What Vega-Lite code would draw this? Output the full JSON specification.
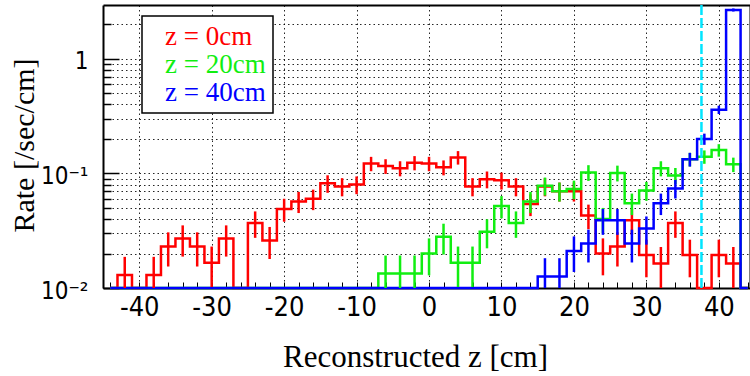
{
  "$schema": "https://vega.github.io/schema/vega-lite/v6.json",
  "width": 647,
  "height": 283,
  "autosize": {"type": "none"},
  "padding": {"left": 103, "top": 5, "right": 0, "bottom": 88},
  "background": "white",
  "config": {"view": {"stroke": null}},
  "datasets": {
    "hist": [
      {"z": -44, "rate": 0, "series": "z = 0cm"},
      {"z": -42, "rate": 0.013, "lo": 0.0073, "hi": 0.0187, "series": "z = 0cm"},
      {"z": -40, "rate": 0, "series": "z = 0cm"},
      {"z": -38, "rate": 0.013, "lo": 0.0073, "hi": 0.0187, "series": "z = 0cm"},
      {"z": -36, "rate": 0.023, "lo": 0.0154, "hi": 0.0306, "series": "z = 0cm"},
      {"z": -34, "rate": 0.027, "lo": 0.0188, "hi": 0.0352, "series": "z = 0cm"},
      {"z": -32, "rate": 0.023, "lo": 0.0154, "hi": 0.0306, "series": "z = 0cm"},
      {"z": -30, "rate": 0.0166, "lo": 0.0102, "hi": 0.023, "series": "z = 0cm"},
      {"z": -28, "rate": 0.027, "lo": 0.0188, "hi": 0.0352, "series": "z = 0cm"},
      {"z": -26, "rate": 0, "series": "z = 0cm"},
      {"z": -24, "rate": 0.037, "lo": 0.0274, "hi": 0.0466, "series": "z = 0cm"},
      {"z": -22, "rate": 0.026, "lo": 0.0179, "hi": 0.0341, "series": "z = 0cm"},
      {"z": -20, "rate": 0.049, "lo": 0.0379, "hi": 0.0601, "series": "z = 0cm"},
      {"z": -18, "rate": 0.057, "lo": 0.0451, "hi": 0.0689, "series": "z = 0cm"},
      {"z": -16, "rate": 0.06, "lo": 0.0478, "hi": 0.0722, "series": "z = 0cm"},
      {"z": -14, "rate": 0.082, "lo": 0.0677, "hi": 0.0963, "series": "z = 0cm"},
      {"z": -12, "rate": 0.077, "lo": 0.0631, "hi": 0.0909, "series": "z = 0cm"},
      {"z": -10, "rate": 0.08, "lo": 0.0659, "hi": 0.0941, "series": "z = 0cm"},
      {"z": -8, "rate": 0.122, "lo": 0.1045, "hi": 0.1395, "series": "z = 0cm"},
      {"z": -6, "rate": 0.116, "lo": 0.099, "hi": 0.133, "series": "z = 0cm"},
      {"z": -4, "rate": 0.111, "lo": 0.0943, "hi": 0.1277, "series": "z = 0cm"},
      {"z": -2, "rate": 0.124, "lo": 0.1064, "hi": 0.1416, "series": "z = 0cm"},
      {"z": 0, "rate": 0.122, "lo": 0.1045, "hi": 0.1395, "series": "z = 0cm"},
      {"z": 2, "rate": 0.113, "lo": 0.0962, "hi": 0.1298, "series": "z = 0cm"},
      {"z": 4, "rate": 0.138, "lo": 0.1194, "hi": 0.1566, "series": "z = 0cm"},
      {"z": 6, "rate": 0.077, "lo": 0.0631, "hi": 0.0909, "series": "z = 0cm"},
      {"z": 8, "rate": 0.089, "lo": 0.0741, "hi": 0.1039, "series": "z = 0cm"},
      {"z": 10, "rate": 0.087, "lo": 0.0723, "hi": 0.1017, "series": "z = 0cm"},
      {"z": 12, "rate": 0.077, "lo": 0.0631, "hi": 0.0909, "series": "z = 0cm"},
      {"z": 14, "rate": 0.054, "lo": 0.0424, "hi": 0.0656, "series": "z = 0cm"},
      {"z": 16, "rate": 0.077, "lo": 0.0631, "hi": 0.0909, "series": "z = 0cm"},
      {"z": 18, "rate": 0.07, "lo": 0.0568, "hi": 0.0832, "series": "z = 0cm"},
      {"z": 20, "rate": 0.07, "lo": 0.0568, "hi": 0.0832, "series": "z = 0cm"},
      {"z": 22, "rate": 0.043, "lo": 0.0326, "hi": 0.0534, "series": "z = 0cm"},
      {"z": 24, "rate": 0.02, "lo": 0.0129, "hi": 0.0271, "series": "z = 0cm"},
      {"z": 26, "rate": 0.023, "lo": 0.0154, "hi": 0.0306, "series": "z = 0cm"},
      {"z": 28, "rate": 0.039, "lo": 0.0291, "hi": 0.0489, "series": "z = 0cm"},
      {"z": 30, "rate": 0.0194, "lo": 0.0124, "hi": 0.0264, "series": "z = 0cm"},
      {"z": 32, "rate": 0.0164, "lo": 0.01, "hi": 0.0228, "series": "z = 0cm"},
      {"z": 34, "rate": 0.037, "lo": 0.0274, "hi": 0.0466, "series": "z = 0cm"},
      {"z": 36, "rate": 0.0194, "lo": 0.0124, "hi": 0.0264, "series": "z = 0cm"},
      {"z": 38, "rate": 0, "series": "z = 0cm"},
      {"z": 40, "rate": 0.0194, "lo": 0.0124, "hi": 0.0264, "series": "z = 0cm"},
      {"z": 42, "rate": 0.0164, "lo": 0.01, "hi": 0.0228, "series": "z = 0cm"},
      {"z": 44, "rate": 0, "series": "z = 0cm"},

      {"z": -44, "rate": 0, "series": "z = 20cm"},
      {"z": -42, "rate": 0, "series": "z = 20cm"},
      {"z": -40, "rate": 0, "series": "z = 20cm"},
      {"z": -38, "rate": 0, "series": "z = 20cm"},
      {"z": -36, "rate": 0, "series": "z = 20cm"},
      {"z": -34, "rate": 0, "series": "z = 20cm"},
      {"z": -32, "rate": 0, "series": "z = 20cm"},
      {"z": -30, "rate": 0, "series": "z = 20cm"},
      {"z": -28, "rate": 0, "series": "z = 20cm"},
      {"z": -26, "rate": 0, "series": "z = 20cm"},
      {"z": -24, "rate": 0, "series": "z = 20cm"},
      {"z": -22, "rate": 0, "series": "z = 20cm"},
      {"z": -20, "rate": 0, "series": "z = 20cm"},
      {"z": -18, "rate": 0, "series": "z = 20cm"},
      {"z": -16, "rate": 0, "series": "z = 20cm"},
      {"z": -14, "rate": 0, "series": "z = 20cm"},
      {"z": -12, "rate": 0, "series": "z = 20cm"},
      {"z": -10, "rate": 0, "series": "z = 20cm"},
      {"z": -8, "rate": 0, "series": "z = 20cm"},
      {"z": -6, "rate": 0.0134, "lo": 0.0076, "hi": 0.0192, "series": "z = 20cm"},
      {"z": -4, "rate": 0.0134, "lo": 0.0076, "hi": 0.0192, "series": "z = 20cm"},
      {"z": -2, "rate": 0.0134, "lo": 0.0076, "hi": 0.0192, "series": "z = 20cm"},
      {"z": 0, "rate": 0.02, "lo": 0.0129, "hi": 0.0271, "series": "z = 20cm"},
      {"z": 2, "rate": 0.028, "lo": 0.0196, "hi": 0.0364, "series": "z = 20cm"},
      {"z": 4, "rate": 0.0166, "lo": 0.0102, "hi": 0.023, "series": "z = 20cm"},
      {"z": 6, "rate": 0.0166, "lo": 0.0102, "hi": 0.023, "series": "z = 20cm"},
      {"z": 8, "rate": 0.031, "lo": 0.0222, "hi": 0.0398, "series": "z = 20cm"},
      {"z": 10, "rate": 0.052, "lo": 0.0406, "hi": 0.0634, "series": "z = 20cm"},
      {"z": 12, "rate": 0.037, "lo": 0.0274, "hi": 0.0466, "series": "z = 20cm"},
      {"z": 14, "rate": 0.057, "lo": 0.0451, "hi": 0.0689, "series": "z = 20cm"},
      {"z": 16, "rate": 0.078, "lo": 0.064, "hi": 0.092, "series": "z = 20cm"},
      {"z": 18, "rate": 0.07, "lo": 0.0568, "hi": 0.0832, "series": "z = 20cm"},
      {"z": 20, "rate": 0.073, "lo": 0.0595, "hi": 0.0865, "series": "z = 20cm"},
      {"z": 22, "rate": 0.102, "lo": 0.086, "hi": 0.118, "series": "z = 20cm"},
      {"z": 24, "rate": 0.04, "lo": 0.03, "hi": 0.05, "series": "z = 20cm"},
      {"z": 26, "rate": 0.101, "lo": 0.0851, "hi": 0.1169, "series": "z = 20cm"},
      {"z": 28, "rate": 0.055, "lo": 0.0433, "hi": 0.0667, "series": "z = 20cm"},
      {"z": 30, "rate": 0.071, "lo": 0.0577, "hi": 0.0843, "series": "z = 20cm"},
      {"z": 32, "rate": 0.111, "lo": 0.0943, "hi": 0.1277, "series": "z = 20cm"},
      {"z": 34, "rate": 0.096, "lo": 0.0805, "hi": 0.1115, "series": "z = 20cm"},
      {"z": 36, "rate": 0.133, "lo": 0.1148, "hi": 0.1512, "series": "z = 20cm"},
      {"z": 38, "rate": 0.14, "lo": 0.1213, "hi": 0.1587, "series": "z = 20cm"},
      {"z": 40, "rate": 0.16, "lo": 0.14, "hi": 0.18, "series": "z = 20cm"},
      {"z": 42, "rate": 0.12, "lo": 0.1027, "hi": 0.1373, "series": "z = 20cm"},
      {"z": 44, "rate": 0, "series": "z = 20cm"},

      {"z": -44, "rate": 0, "series": "z = 40cm"},
      {"z": -42, "rate": 0, "series": "z = 40cm"},
      {"z": -40, "rate": 0, "series": "z = 40cm"},
      {"z": -38, "rate": 0, "series": "z = 40cm"},
      {"z": -36, "rate": 0, "series": "z = 40cm"},
      {"z": -34, "rate": 0, "series": "z = 40cm"},
      {"z": -32, "rate": 0, "series": "z = 40cm"},
      {"z": -30, "rate": 0, "series": "z = 40cm"},
      {"z": -28, "rate": 0, "series": "z = 40cm"},
      {"z": -26, "rate": 0, "series": "z = 40cm"},
      {"z": -24, "rate": 0, "series": "z = 40cm"},
      {"z": -22, "rate": 0, "series": "z = 40cm"},
      {"z": -20, "rate": 0, "series": "z = 40cm"},
      {"z": -18, "rate": 0, "series": "z = 40cm"},
      {"z": -16, "rate": 0, "series": "z = 40cm"},
      {"z": -14, "rate": 0, "series": "z = 40cm"},
      {"z": -12, "rate": 0, "series": "z = 40cm"},
      {"z": -10, "rate": 0, "series": "z = 40cm"},
      {"z": -8, "rate": 0, "series": "z = 40cm"},
      {"z": -6, "rate": 0, "series": "z = 40cm"},
      {"z": -4, "rate": 0, "series": "z = 40cm"},
      {"z": -2, "rate": 0, "series": "z = 40cm"},
      {"z": 0, "rate": 0, "series": "z = 40cm"},
      {"z": 2, "rate": 0, "series": "z = 40cm"},
      {"z": 4, "rate": 0, "series": "z = 40cm"},
      {"z": 6, "rate": 0, "series": "z = 40cm"},
      {"z": 8, "rate": 0, "series": "z = 40cm"},
      {"z": 10, "rate": 0, "series": "z = 40cm"},
      {"z": 12, "rate": 0, "series": "z = 40cm"},
      {"z": 14, "rate": 0, "series": "z = 40cm"},
      {"z": 16, "rate": 0.0126, "lo": 0.007, "hi": 0.0182, "series": "z = 40cm"},
      {"z": 18, "rate": 0.0126, "lo": 0.007, "hi": 0.0182, "series": "z = 40cm"},
      {"z": 20, "rate": 0.021, "lo": 0.0138, "hi": 0.0282, "series": "z = 40cm"},
      {"z": 22, "rate": 0.0245, "lo": 0.0167, "hi": 0.0323, "series": "z = 40cm"},
      {"z": 24, "rate": 0.039, "lo": 0.0291, "hi": 0.0489, "series": "z = 40cm"},
      {"z": 26, "rate": 0.039, "lo": 0.0291, "hi": 0.0489, "series": "z = 40cm"},
      {"z": 28, "rate": 0.0245, "lo": 0.0167, "hi": 0.0323, "series": "z = 40cm"},
      {"z": 30, "rate": 0.033, "lo": 0.0239, "hi": 0.0421, "series": "z = 40cm"},
      {"z": 32, "rate": 0.055, "lo": 0.0433, "hi": 0.0667, "series": "z = 40cm"},
      {"z": 34, "rate": 0.074, "lo": 0.0604, "hi": 0.0876, "series": "z = 40cm"},
      {"z": 36, "rate": 0.133, "lo": 0.1148, "hi": 0.1512, "series": "z = 40cm"},
      {"z": 38, "rate": 0.2, "lo": 0.1776, "hi": 0.2224, "series": "z = 40cm"},
      {"z": 40, "rate": 0.36, "lo": 0.33, "hi": 0.39, "series": "z = 40cm"},
      {"z": 42, "rate": 2.67, "lo": 2.588, "hi": 2.752, "series": "z = 40cm"},
      {"z": 44, "rate": 0, "series": "z = 40cm"}
    ],
    "cut": [{"z": 37.6}]
  },
  "resolve": {"axis": {"x": "independent", "y": "independent"}},
  "layer": [
    {
      "data": {"name": "hist"},
      "mark": {"type": "line", "interpolate": "step", "strokeWidth": 2.5},
      "encoding": {
        "x": {
          "field": "z", "type": "quantitative",
          "scale": {"domain": [-45, 44.3], "nice": false, "zero": false},
          "axis": {
            "orient": "bottom",
            "values": [-40, -30, -20, -10, 0, 10, 20, 30, 40],
            "ticks": false, "domain": false,
            "grid": true, "gridColor": "#000000", "gridDash": [1.5, 3], "gridWidth": 1, "gridOpacity": 0.85,
            "labelExpr": "replace(datum.label, '−', '-')",
            "labelFont": "Liberation Sans Narrow, DejaVu Sans Condensed, Liberation Sans",
            "labelFontSize": 27, "labelColor": "#000000", "labelPadding": 6, "labelFlush": false,
            "title": "Reconstructed z [cm]",
            "titleFont": "Liberation Serif", "titleFontSize": 31, "titleFontWeight": "normal", "titleColor": "#000000",
            "titleX": 312, "titleY": 78, "titleAlign": "center", "titleBaseline": "alphabetic"
          }
        },
        "y": {
          "field": "rate", "type": "quantitative",
          "scale": {"type": "log", "domain": [0.01, 2.95], "clamp": true, "nice": false},
          "axis": {
            "orient": "left",
            "values": [0.01, 0.02, 0.03, 0.04, 0.05, 0.06, 0.07, 0.08, 0.09, 0.1, 0.2, 0.3, 0.4, 0.5, 0.6, 0.7, 0.8, 0.9, 1, 2],
            "ticks": false, "domain": false,
            "grid": true, "gridColor": "#000000", "gridDash": [1.5, 3], "gridWidth": 1, "gridOpacity": 0.85,
            "labelExpr": "datum.value == 1 ? '1' : datum.value == 0.1 ? '10⁻¹' : datum.value == 0.01 ? '10⁻²' : ''",
            "labelFont": "Liberation Sans Narrow, DejaVu Sans Condensed, Liberation Sans",
            "labelFontSize": 24, "labelColor": "#000000", "labelPadding": 15, "labelOffset": 3, "labelOverlap": false,
            "title": "Rate [/sec/cm]",
            "titleFont": "Liberation Serif", "titleFontSize": 30, "titleFontWeight": "normal", "titleColor": "#000000",
            "titleX": -70, "titleY": 140, "titleAngle": -90, "titleAlign": "center", "titleBaseline": "alphabetic"
          }
        },
        "color": {
          "field": "series", "type": "nominal",
          "scale": {"domain": ["z = 0cm", "z = 20cm", "z = 40cm"], "range": ["#ff0000", "#11ee11", "#0000ff"]},
          "legend": {
            "title": null, "orient": "none", "legendX": 39, "legendY": 11,
            "fillColor": "white", "strokeColor": "black", "padding": 7,
            "labelFont": "Liberation Serif", "labelFontSize": 27, "labelLimit": 0,
            "symbolType": "stroke", "symbolSize": 1, "symbolOpacity": 0, "symbolStrokeWidth": 0,
            "labelOffset": -11, "rowPadding": 0,
            "encode": {
              "labels": {"update": {"fill": {"scale": "color", "field": "value"}}},
              "legend": {"update": {"strokeWidth": {"value": 1.5}}}
            }
          }
        }
      }
    },
    {
      "data": {"name": "hist"},
      "mark": {"type": "rule", "strokeWidth": 2.5},
      "encoding": {
        "x": {
          "field": "z", "type": "quantitative",
          "axis": {
            "orient": "bottom",
            "values": [-44, -42, -40, -38, -36, -34, -32, -30, -28, -26, -24, -22, -20, -18, -16, -14, -12, -10, -8, -6, -4, -2, 0, 2, 4, 6, 8, 10, 12, 14, 16, 18, 20, 22, 24, 26, 28, 30, 32, 34, 36, 38, 40, 42, 44],
            "labels": false, "grid": false, "title": null,
            "domain": true, "domainColor": "#000000", "domainWidth": 2,
            "ticks": true, "tickSize": -6, "tickColor": "#000000", "tickWidth": 1
          }
        },
        "y": {
          "field": "lo", "type": "quantitative",
          "axis": {
            "orient": "left",
            "values": [0.01, 0.02, 0.03, 0.04, 0.05, 0.06, 0.07, 0.08, 0.09, 0.1, 0.2, 0.3, 0.4, 0.5, 0.6, 0.7, 0.8, 0.9, 1, 2],
            "labels": false, "grid": false, "title": null,
            "domain": true, "domainColor": "#000000", "domainWidth": 2,
            "ticks": true, "tickColor": "#000000", "tickWidth": 1.5,
            "tickSize": {"condition": {"test": "datum.value == 1 || datum.value == 0.1 || datum.value == 0.01", "value": -16}, "value": -8}
          }
        },
        "y2": {"field": "hi"},
        "color": {"field": "series", "type": "nominal"}
      }
    },
    {
      "data": {"name": "cut"},
      "mark": {"type": "rule", "color": "#00e5ff", "strokeWidth": 2.5, "strokeDash": [10, 3]},
      "encoding": {
        "x": {
          "field": "z", "type": "quantitative",
          "axis": {
            "orient": "top", "labels": false, "ticks": false, "grid": false, "title": null,
            "domain": true, "domainColor": "#000000", "domainWidth": 2
          }
        },
        "y": {
          "datum": 0.01, "type": "quantitative",
          "axis": {
            "orient": "right", "labels": false, "ticks": false, "grid": false, "title": null,
            "domain": true, "domainColor": "#000000", "domainWidth": 2
          }
        },
        "y2": {"datum": 2.95}
      }
    }
  ]
}
